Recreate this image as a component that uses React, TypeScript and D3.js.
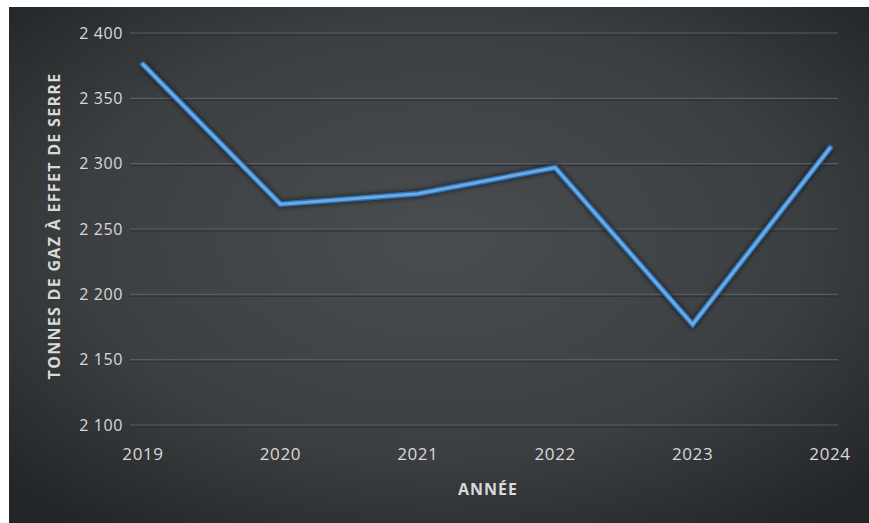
import React from "react";
import * as d3 from "d3";

const years = ["2019", "2020", "2021", "2022", "2023", "2024"];
const values = [2376, 2269, 2277, 2297, 2177, 2312];
const yTicks = [2100, 2150, 2200, 2250, 2300, 2350, 2400];

const W = 869;
const H = 523;

export default function App() {
  const x = d3.scalePoint<string>().domain(years).range([143, 830]);
  const y = d3.scaleLinear().domain([2100, 2400]).range([425, 33]);
  const fmt = (v: number) => d3.format(",")(v).replace(",", " ");
  const line = d3
    .line<number>()
    .x((_, i) => x(years[i]) as number)
    .y((d) => y(d));
  const path = line(values) || "";
  const font = "'Open Sans', 'DejaVu Sans', sans-serif";
  return (
    <svg
      width={W}
      height={H}
      style={{ position: "absolute", left: 0, top: 0, display: "block" }}
    >
      <defs>
        <radialGradient id="bg" cx="0.5" cy="0.45" r="0.7">
          <stop offset="0" stopColor="#4a4d50" />
          <stop offset="0.6" stopColor="#3c3f42" />
          <stop offset="1" stopColor="#222528" />
        </radialGradient>
        <filter id="glow" x="-10%" y="-10%" width="120%" height="120%">
          <feGaussianBlur stdDeviation="2" />
        </filter>
      </defs>
      <rect x={0} y={0} width={W} height={H} fill="#ffffff" />
      <rect x={9} y={7} width={W - 9} height={H - 7} fill="url(#bg)" />
      {yTicks.map((t) => (
        <g key={t}>
          <line
            x1={130}
            x2={838}
            y1={y(t) + 2}
            y2={y(t) + 2}
            stroke="#2e3134"
            strokeWidth={1}
          />
          <line
            x1={130}
            x2={838}
            y1={y(t)}
            y2={y(t)}
            stroke="#595c5f"
            strokeWidth={1.2}
          />
          <text
            x={123}
            y={y(t)}
            dy="0.35em"
            textAnchor="end"
            fontFamily={font}
            fontSize={16}
            letterSpacing={0.6}
            fill="#d9d9d9"
          >
            {fmt(t)}
          </text>
        </g>
      ))}
      {years.map((yr) => (
        <text
          key={yr}
          x={x(yr) as number}
          y={454}
          dy="0.35em"
          textAnchor="middle"
          fontFamily={font}
          fontSize={17}
          letterSpacing={0.6}
          fill="#d9d9d9"
        >
          {yr}
        </text>
      ))}
      <text
        x={488}
        y={489}
        dy="0.35em"
        textAnchor="middle"
        fontFamily={font}
        fontSize={16}
        fontWeight="bold"
        letterSpacing={1}
        fill="#d9d9d9"
      >
        ANNÉE
      </text>
      <text
        transform={`translate(54,226) rotate(-90)`}
        dy="0.35em"
        textAnchor="middle"
        fontFamily={font}
        fontSize={16}
        fontWeight="bold"
        letterSpacing={1.3}
        fill="#d9d9d9"
      >
        TONNES DE GAZ À EFFET DE SERRE
      </text>
      <path
        d={path}
        fill="none"
        stroke="#000000"
        strokeOpacity={0.5}
        strokeWidth={8}
        strokeLinejoin="miter"
        filter="url(#glow)"
      />
      <path
        d={path}
        fill="none"
        stroke="#2f6fae"
        strokeWidth={6}
        strokeLinejoin="miter"
        strokeLinecap="round"
      />
      <path
        d={path}
        fill="none"
        stroke="#6aaae6"
        strokeWidth={3}
        strokeLinejoin="miter"
        strokeLinecap="round"
      />
    </svg>
  );
}
